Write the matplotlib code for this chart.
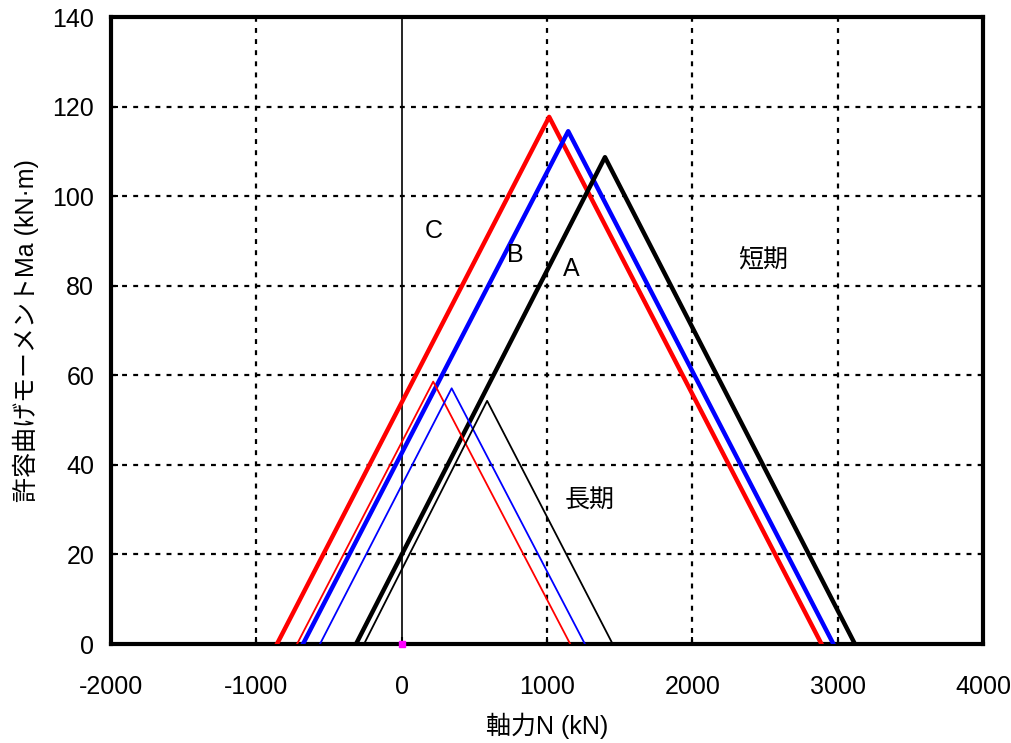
import matplotlib

matplotlib.use("Agg")
import matplotlib.pyplot as plt

plt.rcParams["font.family"] = ["Liberation Sans", "Noto Sans CJK JP", "DejaVu Sans"]
plt.rcParams["axes.unicode_minus"] = False

# short-term (短期) interaction curves: axial force N (kN) vs allowable moment Ma (kN·m)
short_a_n = [-314, 1399, 3119]
short_a_m = [0, 108.7, 0]
short_b_n = [-679, 1146, 2971]
short_b_m = [0, 114.5, 0]
short_c_n = [-858, 1015, 2889]
short_c_m = [0, 117.7, 0]

# long-term (長期)
long_a_n = [-259, 588, 1452]
long_a_m = [0, 54.3, 0]
long_b_n = [-562, 344, 1261]
long_b_m = [0, 57.1, 0]
long_c_n = [-720, 217, 1160]
long_c_m = [0, 58.6, 0]

x_ticks = [-2000, -1000, 0, 1000, 2000, 3000, 4000]
y_ticks = [0, 20, 40, 60, 80, 100, 120, 140]

FS = 18

fig = plt.figure(figsize=(10.12, 7.43), dpi=100)
fig.patch.set_facecolor("white")
ax = fig.add_axes([0.1097, 0.1332, 0.8616, 0.8439])

# grid
for x in [-1000, 1000, 2000, 3000]:
    ax.axvline(x, color="black", lw=1.6, ls=(0, (2.2, 2.8)), zorder=1)
for y in [20, 40, 60, 80, 100, 120]:
    ax.axhline(y, color="black", lw=1.6, ls=(0, (2.2, 2.8)), zorder=1)
ax.axvline(0, color="black", lw=1.2, zorder=1)

ax.plot(short_c_n, short_c_m, color="#ff0000", lw=3.2, zorder=3)
ax.plot(short_b_n, short_b_m, color="#0000ff", lw=3.2, zorder=3)
ax.plot(short_a_n, short_a_m, color="black", lw=3.2, zorder=3)
ax.plot(long_c_n, long_c_m, color="#ff0000", lw=1.3, zorder=3)
ax.plot(long_b_n, long_b_m, color="#0000ff", lw=1.3, zorder=3)
ax.plot(long_a_n, long_a_m, color="black", lw=1.3, zorder=3)
ax.plot([0], [0], marker="s", ms=4, color="#ff00ff", zorder=4, clip_on=False)

ax.text(220, 92.3, "C", fontsize=FS, ha="center", va="center")
ax.text(785, 86.8, "B", fontsize=FS, ha="center", va="center")
ax.text(1165, 83.8, "A", fontsize=FS, ha="center", va="center")
ax.text(2490, 85.8, "短期", fontsize=FS, ha="center", va="center")
ax.text(1290, 32.0, "長期", fontsize=FS, ha="center", va="center")

ax.set_xlim(-2000, 4000)
ax.set_ylim(0, 140)
ax.set_xticks(x_ticks)
ax.set_yticks(y_ticks)
ax.tick_params(direction="in", length=5, width=1.5, labelsize=FS)
ax.tick_params(axis="x", pad=22)
ax.tick_params(axis="y", pad=12)
for spine in ax.spines.values():
    spine.set_linewidth(3)
ax.set_xlabel("軸力N (kN)", fontsize=FS, labelpad=10)
ax.set_ylabel("許容曲げモーメントMa (kN·m)", fontsize=FS, labelpad=10)

fig.savefig("out.png", dpi=100, facecolor="white")
